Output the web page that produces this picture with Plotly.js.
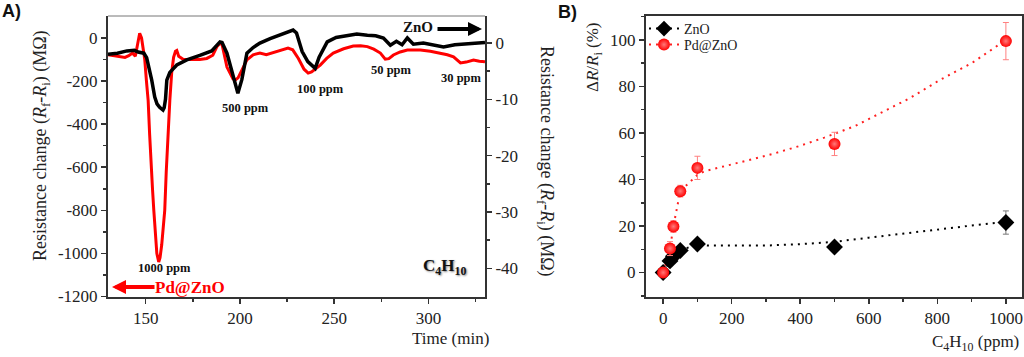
<!DOCTYPE html>
<html><head><meta charset="utf-8">
<script src="https://cdn.plot.ly/plotly-3.0.1.min.js"></script>
<style>html,body{margin:0;padding:0;background:#fff;}#chart{width:1024px;height:357px;}</style>
</head><body><div id="chart"></div>
<script>
// ---------- Panel A : transient response ----------
const timePd = [130,133,136,139,141,143,144.5,145.8,146.8,147.8,149,149.5,150.4,151.3,152.1,152.9,153.6,154.3,155.1,155.9,156.9,157.6,158.5,159.3,160.1,160.9,161.8,162.8,163.8,164.8,165.8,166.5,167.5,170,174,178.7,182.4,185.6,187.8,189.4,190.5,193.1,196.3,197.5,199,201,203.7,207,210.6,214,218,222,225.5,228,231,234,236.2,238,242.6,246,249.5,255,260.1,264,267.6,271,274.5,277.1,279,281.4,285,288.8,295.7,301,306.4,310,313.3,317,320,323.9,327,330];
const respPd = [-78,-82,-88,-90,-82,-70,-85,-20,22,0,-60,-100,-200,-290,-450,-614,-700,-800,-900,-1000,-1040,-1020,-960,-880,-800,-620,-450,-290,-160,-90,-62,-58,-85,-100,-100,-100,-95,-80,-40,-25,-30,-135,-190,-195,-185,-150,-102,-78,-70,-78,-68,-58,-47,-55,-95,-145,-163,-158,-126,-95,-70,-50,-37,-36,-40,-52,-70,-98,-96,-79,-65,-56,-56,-62,-70,-78,-88,-116,-112,-102,-108,-110];
const timeZnO = [130,135,140,144,146,147.5,149,150.5,152,153.2,154.8,156,157.4,158.5,159.2,159.8,160.5,161.2,162.8,166.5,171.8,178.7,185,189.4,190.5,193.1,196.3,198.9,201,203.7,207,210.6,216,221.3,226,228.2,230,233,236,239.9,242,246.3,251,256.9,262,267.6,272,276.1,279.8,283,286,288.8,292,297.3,303,308,314,320,326,330];
const respZnO = [-2.0,-1.8,-1.4,-1.3,-1.6,-1.7,-1.8,-2.6,-4.5,-6.6,-9.6,-10.8,-11.4,-11.8,-11.9,-11.5,-10.0,-6.6,-5.2,-3.9,-3.0,-2.2,-1.4,0.2,0.1,-1.8,-6.0,-8.9,-6.5,-1.8,-0.8,0,0.8,1.4,2.0,2.3,1.8,-1.5,-3.3,-4.5,-2.5,0.2,1.0,1.4,1.6,1.4,1.3,0.9,-0.4,0.3,-0.3,0.9,-0.2,0,-0.3,-0.7,-0.3,-0.2,0,0.1];

// ---------- Panel B : response vs concentration ----------
const concZnO = [0,20,30,50,100,500,1000];
const sensZnO = [0,5,7,9.5,12.3,11,21.5];
const errZnO  = [0.5,0.8,0.8,1,1,1.5,5];
const concPd  = [0,20,30,50,100,500,1000];
const sensPd  = [0,10.3,19.8,35,45,55.3,99.5];
const errPd   = [0.5,3,2.5,2.5,5,5,8];
const fitZnOx = [0,20,50,100,130,200,300,400,500,600,700,800,900,1000];
const fitZnOy = [0,5,9.5,12.2,11.6,11.6,11.6,12.2,13.2,15,16.8,18.5,20.2,21.8];
const fitPdx  = [0,20,30,50,100,120,160,200,250,320,400,470,560,640,720,810,900,980,1000];
const fitPdy  = [0,10,20,35,42,43.5,45,46.5,48.5,51,54.5,58,63,69,75,83,90,98,99.5];

// ---------- tick labels ----------
const tA_x = [150,200,250,300];
const tA_xminor = [175,225,275,325];
const tA_y = [0,-200,-400,-600,-800,-1000,-1200];
const tA_ytext = ['0','-200','-400','-600','-800','-1000','-1200'];
const tA_yminor = [-100,-300,-500,-700,-900,-1100];
const tA_y2 = [0,-10,-20,-30,-40];
const tA_y2text = ['0','-10','-20','-30','-40'];
const tA_y2minor = [-5,-15,-25,-35];
const tB_x = [0,200,400,600,800,1000];
const tB_xminor = [100,300,500,700,900];
const tB_y = [0,20,40,60,80,100];
const tB_yminor = [-10,10,30,50,70,90,110];

const W = 1024, H = 357;
const px = x => x / W, py = y => 1 - y / H;
const serif = 'Liberation Serif, Times New Roman, serif';
const tickFont = {family: serif, size: 17, color: '#222'};
const axBase = {showline: true, linewidth: 2, linecolor: '#333', ticks: 'outside', ticklen: 5, tickwidth: 1.5,
  tickcolor: '#333', showgrid: false, zeroline: false, tickfont: tickFont, tickmode: 'array'};
const minorBase = {ticks: 'outside', ticklen: 3, tickwidth: 1.5, tickcolor: '#333', showgrid: false};
const sphere = {symbol: 'circle', size: 12, color: '#ff0000', gradient: {type: 'radial', color: '#ff7a7a'}, line: {width: 0}};

const traces = [
  {x: timePd, y: respPd, xaxis: 'x', yaxis: 'y', mode: 'lines', line: {color: '#ff0000', width: 3}, showlegend: false},
  {x: timeZnO, y: respZnO, xaxis: 'x', yaxis: 'y2', mode: 'lines', line: {color: '#000', width: 3.5}, showlegend: false},
  {x: fitZnOx, y: fitZnOy, xaxis: 'x2', yaxis: 'y3', mode: 'lines', line: {color: '#000', width: 2, dash: '2px,5px'}, showlegend: false},
  {x: fitPdx, y: fitPdy, xaxis: 'x2', yaxis: 'y3', mode: 'lines', line: {color: '#ff2020', width: 2, dash: '2px,5px'}, showlegend: false},
  {x: concZnO, y: sensZnO, xaxis: 'x2', yaxis: 'y3', mode: 'markers', showlegend: false,
   marker: {symbol: 'diamond', size: 13, color: '#000'},
   error_y: {type: 'data', array: errZnO, color: '#777', thickness: 1, width: 3}},
  {x: concPd, y: sensPd, xaxis: 'x2', yaxis: 'y3', mode: 'markers', showlegend: false, marker: sphere,
   error_y: {type: 'data', array: errPd, color: '#ff8080', thickness: 1, width: 3}},
  {x: [null], y: [null], xaxis: 'x2', yaxis: 'y3', mode: 'lines+markers', name: 'ZnO', legend: 'legend',
   line: {color: '#000', width: 2, dash: '2px,5px'}, marker: {symbol: 'diamond', size: 12, color: '#000'}},
  {x: [null], y: [null], xaxis: 'x2', yaxis: 'y3', mode: 'lines+markers', name: 'Pd@ZnO', legend: 'legend2',
   line: {color: '#ff2020', width: 2, dash: '2px,5px'}, marker: sphere}
];

const dom = [py(296.5), py(16)];
const lbl = (x, y, text, opt) => Object.assign({xref: 'paper', yref: 'paper', x: px(x), y: py(y), text: text, showarrow: false,
  xanchor: 'center', yanchor: 'middle', font: {family: serif, size: 13, color: '#111'}}, opt || {});
const ppm = (x, y, t) => lbl(x, y, '<b>' + t + '</b>', {font: {family: serif, size: 12.5, color: '#111'}});
const legBase = {xanchor: 'left', yanchor: 'middle', bgcolor: 'rgba(0,0,0,0)', borderwidth: 0,
  font: {family: serif, size: 14, color: '#222'}, itemwidth: 30};

const layout = {
  width: W, height: H, margin: {l: 0, r: 0, t: 0, b: 0}, paper_bgcolor: '#fff', plot_bgcolor: 'rgba(0,0,0,0)',
  xaxis: Object.assign({}, axBase, {domain: [px(108), px(485)], range: [130, 330], anchor: 'y',
    tickvals: tA_x, ticktext: tA_x.map(String), minor: Object.assign({tickvals: tA_xminor}, minorBase)}),
  yaxis: Object.assign({}, axBase, {domain: dom, range: [-1200, 102], anchor: 'x',
    tickvals: tA_y, ticktext: tA_ytext, minor: Object.assign({tickvals: tA_yminor}, minorBase)}),
  yaxis2: Object.assign({}, axBase, {domain: dom, range: [-45, 4.8], anchor: 'x', overlaying: 'y', side: 'right',
    tickvals: tA_y2, ticktext: tA_y2text, minor: Object.assign({tickvals: tA_y2minor}, minorBase)}),
  xaxis2: Object.assign({}, axBase, {domain: [px(646), px(1022)], range: [-50, 1047], anchor: 'y3', mirror: true,
    tickvals: tB_x, ticktext: tB_x.map(String), minor: Object.assign({tickvals: tB_xminor}, minorBase)}),
  yaxis3: Object.assign({}, axBase, {domain: dom, range: [-10.3, 110.3], anchor: 'x2', mirror: true,
    tickvals: tB_y, ticktext: tB_y.map(String), minor: Object.assign({tickvals: tB_yminor}, minorBase)}),
  showlegend: true,
  legend: Object.assign({}, legBase, {x: px(644), y: py(29)}),
  legend2: Object.assign({}, legBase, {x: px(644), y: py(45)}),
  shapes: [{type: 'line', xref: 'paper', yref: 'paper', x0: px(108), x1: px(485), y0: py(16), y1: py(16),
    line: {color: '#777', width: 1}}],
  annotations: [
    lbl(11, 11, '<b>A)</b>', {font: {family: 'Liberation Sans, Arial, sans-serif', size: 18, color: '#111'}}),
    lbl(567, 12, '<b>B)</b>', {font: {family: 'Liberation Sans, Arial, sans-serif', size: 18, color: '#111'}}),
    lbl(41, 146, 'Resistance change (<i>R</i><sub>f</sub>-<i>R</i><sub>i</sub>) (MΩ)', {textangle: -90, font: {family: serif, size: 18, color: '#222'}}),
    lbl(545, 161, 'Resistance change (<i>R</i><sub>f</sub>-<i>R</i><sub>i</sub>) (MΩ)', {textangle: 90, font: {family: serif, size: 18, color: '#222'}}),
    lbl(594, 57, 'Δ<i>R</i>/<i>R</i><sub>i</sub> (%)', {textangle: -90, font: {family: serif, size: 17, color: '#222'}}),
    lbl(491, 338, 'Time (min)', {xanchor: 'right', font: {family: serif, size: 17, color: '#222'}}),
    lbl(1021, 343, 'C<sub>4</sub>H<sub>10</sub> (ppm)', {xanchor: 'right', font: {family: serif, size: 17, color: '#222'}}),
    ppm(164, 268, '1000 ppm'), ppm(245, 108, '500 ppm'), ppm(320, 89, '100 ppm'),
    ppm(391, 70, '50 ppm'), ppm(461, 78, '30 ppm'),
    lbl(418, 27, '<b>ZnO</b>', {font: {family: serif, size: 15, color: '#111'}}),
    lbl(190, 287, '<b>Pd@ZnO</b>', {font: {family: serif, size: 17, color: '#ff0000'}}),
    lbl(444, 267, '<b>C<sub>4</sub>H<sub>10</sub></b>', {font: {family: serif, size: 17, color: '#111', shadow: '1px 1px 2px #888'}}),
    {xref: 'paper', yref: 'paper', x: px(482), y: py(29), ax: -46, ay: 0, text: '', showarrow: true,
     arrowhead: 2, arrowsize: 0.7, arrowwidth: 4, arrowcolor: '#000'},
    {xref: 'paper', yref: 'paper', x: px(112), y: py(287), ax: 44, ay: 0, text: '', showarrow: true,
     arrowhead: 2, arrowsize: 0.7, arrowwidth: 4, arrowcolor: '#ff0000'}
  ]
};
Plotly.newPlot('chart', traces, layout, {displayModeBar: false, staticPlot: true});
</script></body></html>
